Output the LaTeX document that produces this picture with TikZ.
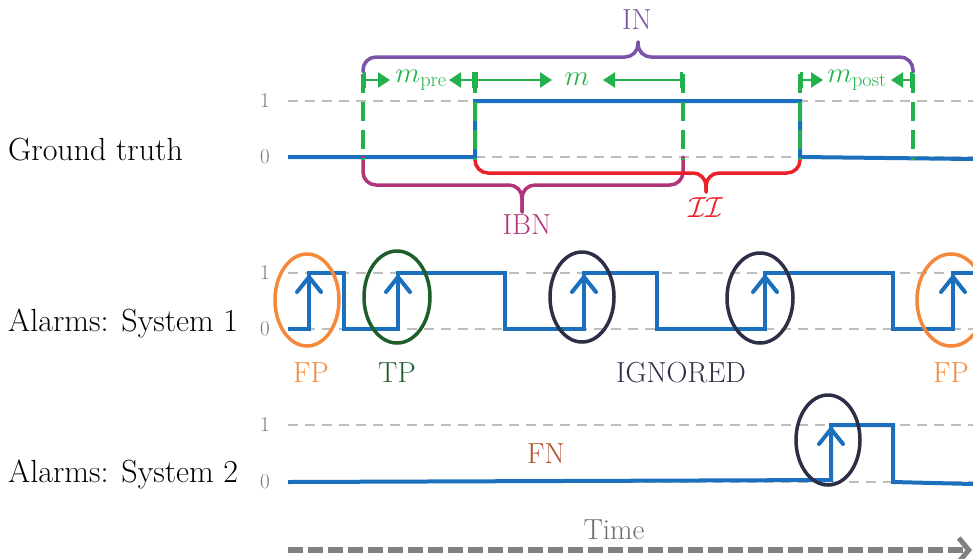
\RequirePackage{fix-cm}
\documentclass[tikz,border=0pt]{standalone}
\usepackage{fontspec}
\usetikzlibrary{arrows.meta}
\definecolor{sig}{RGB}{27,112,189}
\definecolor{mgreen}{RGB}{34,177,76}
\definecolor{inpurple}{RGB}{123,84,168}
\definecolor{ibnmag}{RGB}{176,53,122}
\definecolor{iired}{RGB}{236,32,40}
\definecolor{fporange}{RGB}{245,136,58}
\definecolor{tpgreen}{RGB}{30,94,42}
\definecolor{navy}{RGB}{44,47,69}
\definecolor{fnbrown}{RGB}{176,80,42}
\definecolor{lvlgray}{RGB}{190,190,190}
\definecolor{tickgray}{RGB}{120,120,120}
\definecolor{timegray}{RGB}{110,110,110}
\definecolor{axisgray}{RGB}{128,128,128}
\begin{document}
\begin{tikzpicture}[x=1pt,y=-1pt,
  rowlabel/.style={anchor=west,font=\fontsize{32}{36}\selectfont,inner sep=0pt},
  lab/.style={font=\fontsize{29}{33}\selectfont,inner sep=0pt},
  tick/.style={font=\fontsize{21}{24}\selectfont,text=tickgray,inner sep=0pt},
  level/.style={draw=lvlgray,line width=1.5pt,dash pattern=on 10pt off 7pt},
  signal/.style={draw=sig,line width=4pt,line join=miter},
  alarm/.style={draw=sig,line width=4pt,-{Straight Barb[round,length=15pt,width=24pt,line width=4pt]}},
  gdash/.style={draw=mgreen,line width=4pt,dash pattern=on 19pt off 9pt},
  garrow/.style={draw=mgreen,line width=2.5pt,{Bar[width=16pt,line width=3pt]}-{Triangle[length=12pt,width=15pt]}},
  bracestyle/.style={line width=3.5pt,rounded corners=13pt,line cap=round},
  ring/.style={line width=3.5pt}]
\useasboundingbox (0,0) rectangle (973,558);

% ---------- row labels ----------
\node[rowlabel] (gt) at (8,150) {Ground truth};
\node[rowlabel] (s1) at (8,323) {Alarms: System 1};
\node[rowlabel] (s2) at (8,474) {Alarms: System 2};

% ---------- level lines and ticks ----------
\foreach \y in {101,157,273,329,425,482}{
  \draw[level] (288,\y) -- (973,\y);
}
\node[tick] (t1a) at (265,101) {1};
\node[tick] (t0a) at (265,157) {0};
\node[tick] (t1b) at (265,273) {1};
\node[tick] (t0b) at (265,329) {0};
\node[tick] (t1c) at (265,425) {1};
\node[tick] (t0c) at (265,482) {0};

% ---------- ground truth ----------
\draw[signal] (288,157) -- (475,157) -- (475,101) -- (800,101) -- (800,157) -- (973,159);

% braces below
\draw[bracestyle,draw=ibnmag] (363,157) |- (522,185) -- (522,212);
\draw[bracestyle,draw=ibnmag] (683,157) |- (522,185) -- (522,212);
\draw[bracestyle,draw=iired] (475,159) |- (706,173) -- (706,192);
\draw[bracestyle,draw=iired] (800,159) |- (706,173) -- (706,192);
% brace above
\draw[bracestyle,draw=inpurple] (363,72) |- (638,57) -- (638,42);
\draw[bracestyle,draw=inpurple] (913,72) |- (638,57) -- (638,42);

% green dashed verticals
\foreach \x in {363,475,683,800,913}{
  \draw[gdash] (\x,74) -- (\x,160);
}
% green margin arrows
\draw[garrow] (363,80) -- (390,80);
\draw[garrow] (475,80) -- (449,80);
\draw[garrow] (475,80) -- (552,80);
\draw[garrow] (683,80) -- (603,80);
\draw[garrow] (800,80) -- (823,80);
\draw[garrow] (913,80) -- (891,80);

\node[lab,text=mgreen] (mpre) at (421,80) {$m_{\mathrm{pre}}$};
\node[lab,text=mgreen] (m) at (577,79) {$m$};
\node[lab,text=mgreen] (mpost) at (857,80) {$m_{\mathrm{post}}$};
\node[lab,text=inpurple] (IN) at (637,20) {IN};
\node[lab,text=ibnmag] (IBN) at (527,225) {IBN};
\node[lab,text=iired] (II) at (706,208) {$\mathcal{II}$};

% ---------- system 1 ----------
\draw[signal] (288,329) -- (309,329) -- (309,273) -- (344,273) -- (344,329)
  -- (398,329) -- (398,273) -- (505,273) -- (505,329)
  -- (584,329) -- (584,273) -- (657,273) -- (657,329)
  -- (765,329) -- (765,273) -- (893,273) -- (893,329)
  -- (953,329) -- (953,273) -- (973,273);
\foreach \x in {309,398,584,765,953}{
  \draw[alarm] (\x,327) -- (\x,275);
}
\draw[ring,draw=fporange] (307,300) ellipse [x radius=32, y radius=46];
\draw[ring,draw=tpgreen] (397,297) ellipse [x radius=33, y radius=46];
\draw[ring,draw=navy] (582,297) ellipse [x radius=32, y radius=45];
\draw[ring,draw=navy] (760,298) ellipse [x radius=33, y radius=45];
\draw[ring,draw=fporange] (951,300) ellipse [x radius=34, y radius=46];

\node[lab,text=fporange] (fp1) at (311,373) {FP};
\node[lab,text=tpgreen] (tp) at (397,373) {TP};
\node[lab,text=navy] (ign) at (681,373) {IGNORED};
\node[lab,text=fporange] (fp2) at (951,373) {FP};

% ---------- system 2 ----------
\draw[signal] (288,482) -- (831,480) -- (831,425) -- (893,425) -- (893,482) -- (973,484);
\draw[alarm] (831,480) -- (831,427);
\draw[ring,draw=navy] (828,440) ellipse [x radius=32, y radius=45];
\node[lab,text=fnbrown] (fn) at (546,454) {FN};

% ---------- time axis ----------
\node[lab,text=timegray] (time) at (614,530) {Time};
\coordinate (tstart) at (288,550);
\coordinate (tend) at (972,550);
\draw[draw=axisgray,line width=6pt,dash pattern=on 15pt off 5pt,
  -{Straight Barb[length=10pt,width=24pt,line width=5pt]}] (tstart) -- (tend);
\end{tikzpicture}
\end{document}
